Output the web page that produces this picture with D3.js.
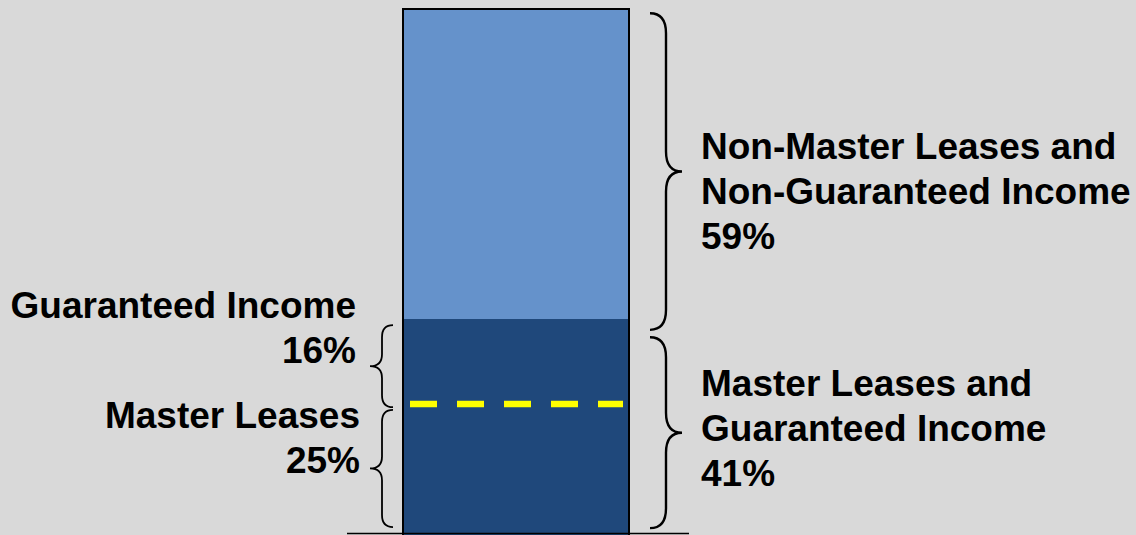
<!DOCTYPE html>
<html>
<head>
<meta charset="utf-8">
<script src="https://cdn.jsdelivr.net/npm/d3@7"></script>
<style>
    html, body { margin: 0; padding: 0; background: #d9d9d9; overflow: hidden; }
    .label { font-family: "Liberation Sans", Arial, sans-serif; font-weight: bold; font-size: 37px; fill: #000; }
    .brace { fill: none; stroke: #000; }
    .seg { shape-rendering: crispEdges; }
</style>
</head>
<body>
<script>
(function(){
    //segments of the single stacked bar, bottom to top (percent)
    var segNames = ["Master Leases", "Guaranteed Income", "Other"];
    var segValues = [25, 16, 59];
    var segColors = ["#1f487b", "#1f487b", "#6592cb"];

    //braces, as percent ranges of the bar
    var braceSide = ["left", "left", "right", "right"];
    var braceFrom = [1.5, 24.3, 1.3, 39.0];
    var braceTo = [23.8, 39.9, 37.6, 99.2];

    //label texts
    var leftLines = [["Guaranteed Income", "16%"], ["Master Leases", "25%"]];
    var rightLines = [["Master Leases and", "Guaranteed Income", "41%"],
                      ["Non-Master Leases and", "Non-Guaranteed Income", "59%"]];

    var width = 1136, height = 535;

    var svg = d3.select("body")
        .append("svg")
        .attr("width", width)
        .attr("height", height);

    svg.append("rect")
        .attr("width", width)
        .attr("height", height)
        .attr("fill", "#d9d9d9");

    //scales
    var x = d3.scaleBand()
        .domain(["Total"])
        .range([403, 629]);

    var y = d3.scaleLinear()
        .domain([0, 100])
        .range([535, 9]);

    //stack the segments
    var row = {};
    segNames.forEach(function(n, i){ row[n] = segValues[i]; });
    var stack = d3.stack().keys(segNames)([row]);

    svg.selectAll(".seg")
        .data(stack)
        .enter()
        .append("rect")
        .attr("class", "seg")
        .attr("x", x("Total"))
        .attr("width", x.bandwidth())
        .attr("y", function(d){ return Math.round(y(d[0][1])); })
        .attr("height", function(d){ return Math.round(y(d[0][0])) - Math.round(y(d[0][1])); })
        .attr("fill", function(d, i){ return segColors[i]; });

    //bar outline (left, top, right)
    var x0 = x("Total"), x1 = x("Total") + x.bandwidth();
    svg.append("path")
        .attr("d", "M" + x0 + "," + y(0) + "V" + y(100) + "H" + x1 + "V" + y(0))
        .attr("fill", "none")
        .attr("stroke", "#000")
        .attr("stroke-width", 2);

    //baseline
    svg.append("line")
        .attr("x1", 347).attr("x2", 689)
        .attr("y1", 533.5).attr("y2", 533.5)
        .attr("stroke", "#000")
        .attr("stroke-width", 1.3);

    //yellow dashed divider at the top of master leases
    svg.append("line")
        .attr("x1", x0 + 7).attr("x2", x1 - 6)
        .attr("y1", y(segValues[0]) + 0.5).attr("y2", y(segValues[0]) + 0.5)
        .attr("stroke", "#ffff00")
        .attr("stroke-width", 6.5)
        .attr("stroke-dasharray", "27,20");

    //curly braces
    function bracePath(side, ya, yb){
        var top = Math.min(ya, yb), bot = Math.max(ya, yb), mid = (top + bot) / 2;
        var e, v, t, r;
        if (side == "right"){ e = 650; v = 666; t = 682; r = 20; }
        else { e = 393; v = 382; t = 370; r = 12; }
        return "M" + e + "," + top +
            "Q" + v + "," + top + " " + v + "," + (top + r) +
            "L" + v + "," + (mid - r) +
            "Q" + v + "," + mid + " " + t + "," + mid +
            "Q" + v + "," + mid + " " + v + "," + (mid + r) +
            "L" + v + "," + (bot - r) +
            "Q" + v + "," + bot + " " + e + "," + bot;
    }

    svg.selectAll(".brace")
        .data(braceSide)
        .enter()
        .append("path")
        .attr("class", "brace")
        .attr("stroke-width", function(d){ return d == "right" ? 2.4 : 1.8; })
        .attr("d", function(d, i){ return bracePath(d, y(braceTo[i]), y(braceFrom[i])); });

    //labels
    var lineH = 45;
    var leftBase = [318, 428];
    var leftEnd = [356, 360];
    leftLines.forEach(function(lines, i){
        svg.append("text")
            .attr("class", "label")
            .attr("text-anchor", "end")
            .selectAll("tspan")
            .data(lines)
            .enter()
            .append("tspan")
            .attr("x", leftEnd[i])
            .attr("y", function(d, j){ return leftBase[i] + j * lineH; })
            .text(function(d){ return d; });
    });

    var rightBase = [396, 159];
    rightLines.forEach(function(lines, i){
        svg.append("text")
            .attr("class", "label")
            .selectAll("tspan")
            .data(lines)
            .enter()
            .append("tspan")
            .attr("x", 701)
            .attr("y", function(d, j){ return rightBase[i] + j * lineH; })
            .text(function(d){ return d; });
    });
})();
</script>
</body>
</html>
